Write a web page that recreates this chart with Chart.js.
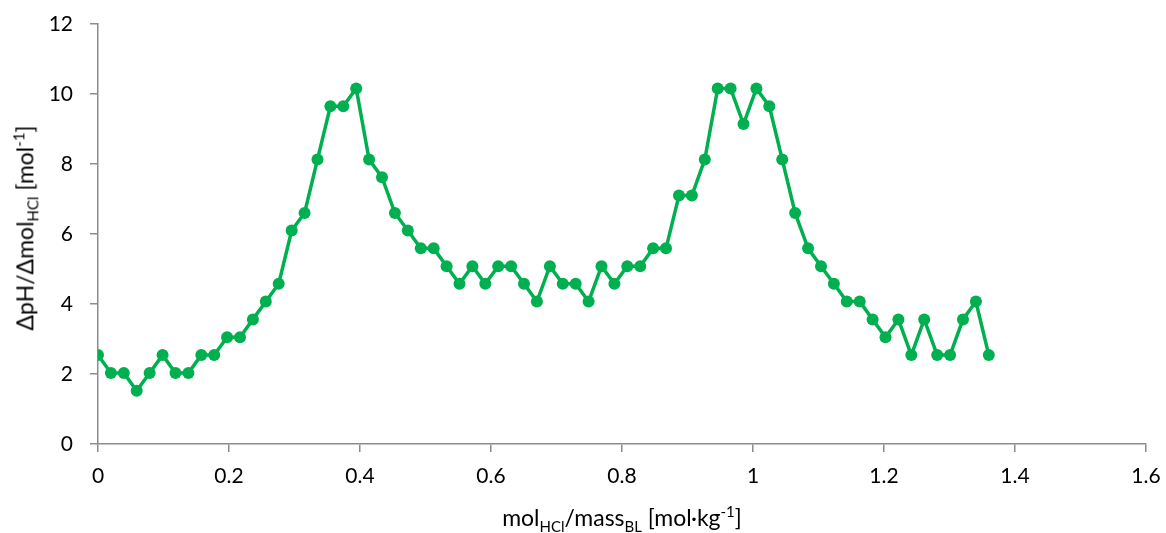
<!DOCTYPE html>
<html>
<head>
<meta charset="utf-8">
<script src="https://cdn.jsdelivr.net/npm/chart.js@4.4.1/dist/chart.umd.min.js"></script>
<style>
  body { margin: 0; background: #fff; }
  #wrap { position: relative; width: 1166px; height: 533px; font-family: Lato, "Open Sans", sans-serif; color: #000; }
  .ttl { position: absolute; font-size: 23px; white-space: nowrap; line-height: 1; }
  .ttl sub, .ttl sup { font-size: 15px; }
  #xTitle { left: 622px; top: 519px; transform: translate(-50%, -50%); }
  #yTitle { left: 26px; top: 228px; transform: translate(-50%, -50%) rotate(-90deg); }
</style>
</head>
<body>
<div id="wrap">
  <canvas id="myChart" width="1166" height="533"></canvas>
  <div class="ttl" id="xTitle">mol<sub>HCl</sub>/mass<sub>BL</sub> [mol·kg<sup>-1</sup>]</div>
  <div class="ttl" id="yTitle">ΔpH/Δmol<sub>HCl</sub> [mol<sup>-1</sup>]</div>
</div>
<script>
var molPerMass = [0, 0.0197, 0.0394, 0.0591, 0.0788, 0.0986, 0.1183, 0.1380, 0.1577, 0.1774,
  0.1971, 0.2168, 0.2365, 0.2562, 0.2759, 0.2957, 0.3154, 0.3351, 0.3548, 0.3745,
  0.3942, 0.4139, 0.4336, 0.4533, 0.4730, 0.4928, 0.5125, 0.5322, 0.5519, 0.5716,
  0.5913, 0.6110, 0.6307, 0.6504, 0.6701, 0.6899, 0.7096, 0.7293, 0.7490, 0.7687,
  0.7884, 0.8081, 0.8278, 0.8475, 0.8672, 0.8870, 0.9067, 0.9264, 0.9461, 0.9658,
  0.9855, 1.0052, 1.0249, 1.0446, 1.0643, 1.0841, 1.1038, 1.1235, 1.1432, 1.1629,
  1.1826, 1.2023, 1.2220, 1.2417, 1.2614, 1.2812, 1.3009, 1.3206, 1.3403, 1.3600];

var dpHdmol = [2.54, 2.03, 2.03, 1.52, 2.03, 2.54, 2.03, 2.03, 2.54, 2.54,
  3.05, 3.05, 3.56, 4.07, 4.58, 6.10, 6.60, 8.13, 9.65, 9.65,
  10.16, 8.13, 7.62, 6.60, 6.10, 5.59, 5.59, 5.08, 4.58, 5.08,
  4.58, 5.08, 5.08, 4.58, 4.07, 5.08, 4.58, 4.58, 4.07, 5.08,
  4.58, 5.08, 5.08, 5.59, 5.59, 7.10, 7.10, 8.13, 10.16, 10.16,
  9.14, 10.16, 9.65, 8.13, 6.60, 5.59, 5.08, 4.58, 4.07, 4.07,
  3.56, 3.05, 3.56, 2.54, 3.56, 2.54, 2.54, 3.56, 4.07, 2.54];

var xTicks = [0, 0.2, 0.4, 0.6, 0.8, 1, 1.2, 1.4, 1.6];
var yTicks = [0, 2, 4, 6, 8, 10, 12];

var points = [];
for (var i = 0; i < molPerMass.length; i++) {
  points.push({ x: molPerMass[i], y: dpHdmol[i] });
}

var axisGray = '#8c8c8c';

var myChart = new Chart(document.getElementById("myChart"), {
  type: 'scatter',
  data: {
    datasets: [{
      data: points,
      showLine: true,
      borderColor: '#00b050',
      backgroundColor: '#00b050',
      borderWidth: 3.5,
      pointRadius: 6,
      pointHoverRadius: 6,
      pointBorderWidth: 0
    }]
  },
  options: {
    responsive: false,
    animation: false,
    devicePixelRatio: 1,
    layout: { padding: { top: 24, right: 20, left: 0, bottom: 0 } },
    plugins: { legend: { display: false }, tooltip: { enabled: false } },
    scales: {
      x: {
        type: 'linear',
        min: xTicks[0],
        max: xTicks[xTicks.length - 1],
        afterBuildTicks: function (scale) {
          scale.ticks = xTicks.map(function (v) { return { value: v }; });
        },
        afterFit: function (scale) {
          scale.height = 89;
          scale.paddingLeft = 0;
          scale.paddingRight = 0;
        },
        grid: { drawOnChartArea: false, color: axisGray, lineWidth: 1.5, tickLength: 8 },
        border: { color: axisGray, width: 1.5 },
        ticks: {
          color: '#000', padding: 12, font: { family: 'Lato', size: 21 },
          callback: function (v) { return String(v); }
        }
      },
      y: {
        min: yTicks[0],
        max: yTicks[yTicks.length - 1],
        afterBuildTicks: function (scale) {
          scale.ticks = yTicks.map(function (v) { return { value: v }; });
        },
        afterFit: function (scale) {
          scale.width = 98;
          scale.paddingTop = 0;
          scale.paddingBottom = 0;
        },
        grid: { drawOnChartArea: false, color: axisGray, lineWidth: 1.5, tickLength: 8 },
        border: { color: axisGray, width: 1.5 },
        ticks: { color: '#000', padding: 17, font: { family: 'Lato', size: 21 } }
      }
    }
  }
});
</script>
</body>
</html>
